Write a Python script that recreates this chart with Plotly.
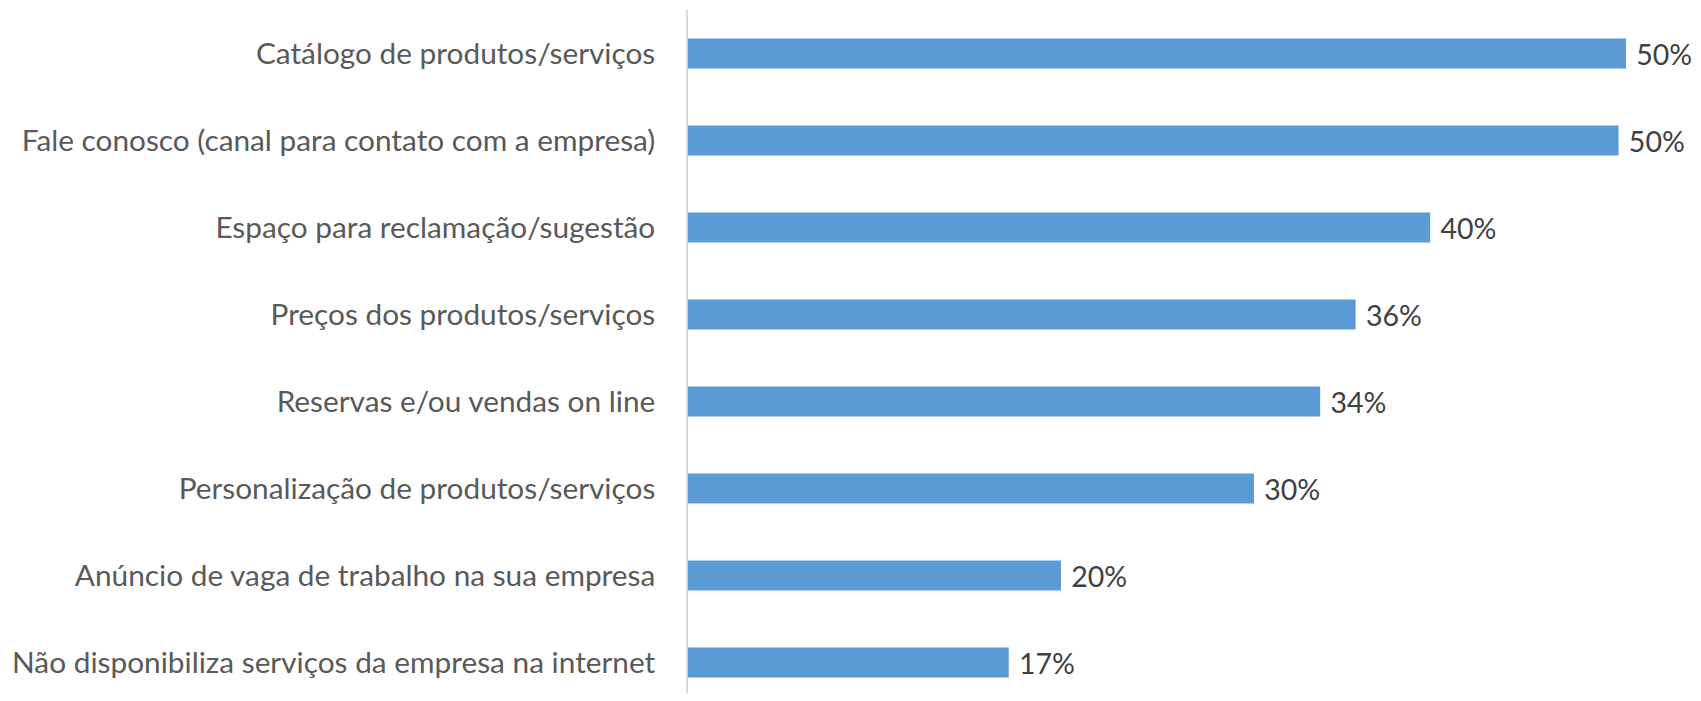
import plotly.graph_objects as go

categories = [
    "Catálogo de produtos/serviços",
    "Fale conosco (canal para contato com a empresa)",
    "Espaço para reclamação/sugestão",
    "Preços dos produtos/serviços",
    "Reservas e/ou vendas on line",
    "Personalização de produtos/serviços",
    "Anúncio de vaga de trabalho na sua empresa",
    "Não disponibiliza serviços da empresa na internet",
]
values = [0.503, 0.499, 0.398, 0.358, 0.339, 0.3035, 0.200, 0.172]

FONT = "Lato"

fig = go.Figure(
    go.Bar(
        y=categories,
        x=values,
        orientation="h",
        marker=dict(color="#5B9BD5", line=dict(width=0)),
        width=0.345,
        texttemplate=" %{x:.0%}",
        textposition="outside",
        constraintext="none",
        textfont=dict(family=FONT, size=28.5, color="#404040"),
        cliponaxis=False,
    )
)

fig.update_layout(
    width=1685,
    height=685,
    margin=dict(l=680, r=20, t=2, b=0),
    paper_bgcolor="white",
    plot_bgcolor="white",
    showlegend=False,
    font=dict(family=FONT, size=29.8, color="#595959"),
    xaxis=dict(
        range=[0, 0.5282],
        showgrid=False,
        zeroline=False,
        showticklabels=False,
        showline=False,
        automargin=False,
    ),
    yaxis=dict(
        categoryorder="array",
        categoryarray=categories,
        range=[7.35, -0.5],
        showgrid=False,
        zeroline=False,
        showline=True,
        linecolor="#d9d9d9",
        linewidth=1.5,
        ticks="",
        ticklabelstandoff=25,
        automargin=False,
        tickfont=dict(family=FONT, size=29.8, color="#595959"),
    ),
)

fig.write_html("out.html")
